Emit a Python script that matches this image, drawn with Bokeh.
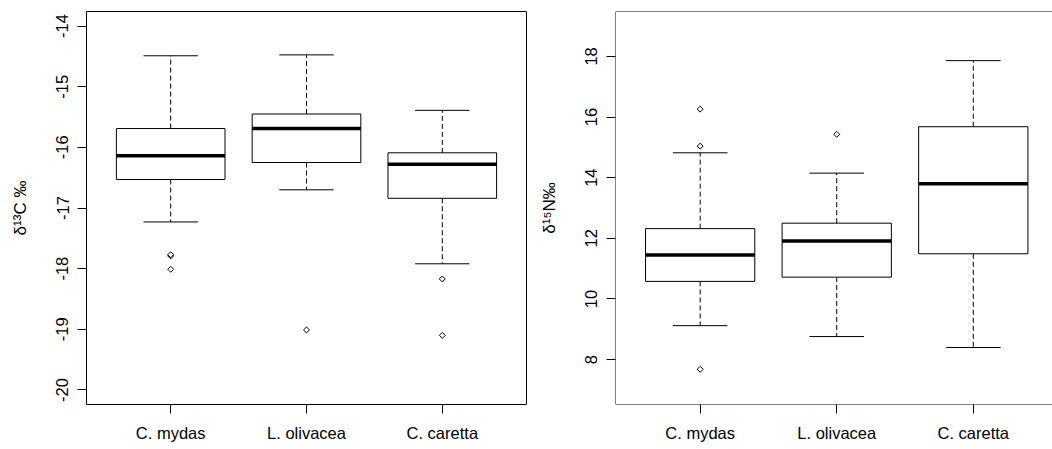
import math
from bokeh.plotting import figure
from bokeh.models import FixedTicker, Span
from bokeh.layouts import row
from bokeh.embed import file_html
from bokeh.resources import INLINE

species = ["C. mydas", "L. olivacea", "C. caretta"]
xpos = [1, 2, 3]

# delta 13C boxplot stats
c13_lo = [-17.23, -16.70, -17.92]
c13_q1 = [-16.53, -16.25, -16.84]
c13_med = [-16.14, -15.69, -16.28]
c13_q3 = [-15.69, -15.45, -16.09]
c13_hi = [-14.49, -14.475, -15.39]
c13_out_x = [1, 1, 1, 2, 3, 3]
c13_out_y = [-17.79, -17.77, -18.01, -19.01, -18.17, -19.10]
c13_ticks = [-20, -19, -18, -17, -16, -15, -14]

# delta 15N boxplot stats
n15_lo = [9.12, 8.76, 8.40]
n15_q1 = [10.58, 10.72, 11.49]
n15_med = [11.45, 11.91, 13.80]
n15_q3 = [12.32, 12.50, 15.68]
n15_hi = [14.82, 14.15, 17.86]
n15_out_x = [1, 1, 1, 2]
n15_out_y = [16.26, 15.04, 7.68, 15.43]
n15_ticks = [8, 10, 12, 14, 16, 18]

FONT = "Liberation Sans"
FS = "16.5px"


def make_plot(width, height, xr, yr, borders, lo, q1, med, q3, hi, ox, oy, ticks, ylabel, outline=True):
    p = figure(width=width, height=height, x_range=xr, y_range=yr,
               output_backend="svg", toolbar_location=None,
               min_border_left=borders[0], min_border_right=borders[1],
               min_border_top=borders[2], min_border_bottom=borders[3])
    p.xgrid.visible = False
    p.ygrid.visible = False
    p.background_fill_color = "white"
    p.border_fill_color = "white"
    if outline:
        p.outline_line_color = "black"
        p.outline_line_width = 1
        p.outline_line_alpha = 1
    else:
        p.outline_line_color = None
        for loc, dim in [(xr[0], "height"), (yr[0], "width"), (yr[1], "width")]:
            p.add_layout(Span(location=loc, dimension=dim, line_color="black", line_width=1))

    half = 0.4
    cap = 0.2
    xl = [x - half for x in xpos]
    xrr = [x + half for x in xpos]
    # whiskers
    p.segment(x0=xpos, y0=q3, x1=xpos, y1=hi, line_color="black", line_width=1, line_dash="5 3")
    p.segment(x0=xpos, y0=q1, x1=xpos, y1=lo, line_color="black", line_width=1, line_dash="5 3")
    p.segment(x0=[x - cap for x in xpos], y0=hi, x1=[x + cap for x in xpos], y1=hi, line_color="black", line_width=1)
    p.segment(x0=[x - cap for x in xpos], y0=lo, x1=[x + cap for x in xpos], y1=lo, line_color="black", line_width=1)
    # boxes
    p.quad(left=xl, right=xrr, bottom=q1, top=q3, fill_color="white", line_color="black", line_width=1)
    p.segment(x0=xl, y0=med, x1=xrr, y1=med, line_color="black", line_width=3.5)
    # outliers
    p.scatter(x=ox, y=oy, marker="square", angle=math.pi / 4, size=4.2,
              fill_color="white", line_color="black", line_width=1)

    xa = p.xaxis[0]
    xa.ticker = FixedTicker(ticks=xpos)
    xa.major_label_overrides = {1: species[0], 2: species[1], 3: species[2]}
    xa.axis_line_color = None
    xa.major_tick_out = 9
    xa.major_tick_in = 0
    xa.minor_tick_out = 0
    xa.minor_tick_in = 0
    xa.major_label_standoff = 10
    xa.major_label_text_font = FONT
    xa.major_label_text_font_size = FS
    xa.major_label_text_color = "black"

    ya = p.yaxis[0]
    ya.ticker = FixedTicker(ticks=ticks)
    ya.major_label_overrides = {t: str(t) for t in ticks}
    ya.axis_line_color = None
    ya.major_tick_out = 9
    ya.major_tick_in = 0
    ya.minor_tick_out = 0
    ya.minor_tick_in = 0
    ya.major_label_orientation = "vertical"
    ya.major_label_standoff = 9
    ya.major_label_text_font = FONT
    ya.major_label_text_font_size = FS
    ya.major_label_text_color = "black"
    ya.axis_label = ylabel
    ya.axis_label_text_font = FONT
    ya.axis_label_text_font_size = "17px"
    ya.axis_label_text_font_style = "normal"
    ya.axis_label_text_color = "black"
    ya.axis_label_standoff = 24
    return p


p1 = make_plot(530, 449, (0.38, 3.62), (-20.24, -13.76), (86, 4, 11, 43),
               c13_lo, c13_q1, c13_med, c13_q3, c13_hi, c13_out_x, c13_out_y,
               c13_ticks, "δ¹³C ‰")
p2 = make_plot(522, 449, (0.38, 3.58), (6.52, 19.48), (85, 0, 6, 45),
               n15_lo, n15_q1, n15_med, n15_q3, n15_hi, n15_out_x, n15_out_y,
               n15_ticks, "δ¹⁵N‰", outline=False)

layout = row(p1, p2)
open("out.html", "w").write(file_html(layout, INLINE))
